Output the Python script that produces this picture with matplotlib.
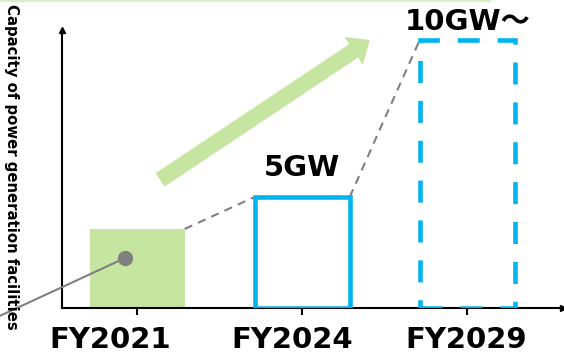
import matplotlib
matplotlib.use("Agg")
import matplotlib.pyplot as plt
from matplotlib.patches import FancyArrowPatch
from matplotlib.lines import Line2D

plt.rcParams['font.family'] = ['DejaVu Sans', 'Noto Sans CJK JP']

years = ["FY2021", "FY2024", "FY2029"]
heights = [3.56, 5.0, 12.07]          # schematic capacity (GW scale)
labels = [None, "5GW", "10GW～"]
ylabel = "Capacity of power generation facilities"

green = "#c5e5a0"
blue = "#00b4f0"
gray = "#808080"

fig = plt.figure(figsize=(5.64, 3.63), dpi=100)
ax = fig.add_axes([62/564, 55/363, 501/564, 278/363])
x = list(range(len(years)))
w = 0.576

# bars
ax.bar(x[0], heights[0], width=w, color=green, edgecolor="none", zorder=2)
ax.bar(x[1], heights[1], width=w, facecolor="none", edgecolor=blue, lw=3.3, zorder=3)
ax.bar(x[2], heights[2], width=w, facecolor="none", edgecolor=blue, lw=3.3,
       linestyle=(0, (4.8, 3.9)), zorder=3)

# dashed connectors between bar tops
for i in range(len(years) - 1):
    ax.plot([x[i] + w/2, x[i+1] - w/2], [heights[i], heights[i+1]],
            color=gray, lw=1.5, linestyle=(0, (4, 3)), zorder=1)

# value labels
ax.text(x[1], 6.3, labels[1], ha="center", va="center", fontsize=21, fontweight="bold")
ax.text(x[2], 12.9, labels[2], ha="center", va="center", fontsize=21, fontweight="bold")

# growth arrow
arr = FancyArrowPatch((0.139, 5.77), (1.41, 12.07), arrowstyle="simple,head_width=24,head_length=14,tail_width=11.5",
                      mutation_scale=1, color=green, shrinkA=0, shrinkB=0, lw=0, zorder=2)
ax.add_patch(arr)

# pointer dot and leader line
ax.plot([-0.83, -0.073], [-0.35, 2.25], color=gray, lw=1.5, clip_on=False, zorder=4)
ax.plot(-0.073, 2.25, "o", color=gray, ms=10, clip_on=False, zorder=5)

ax.set_xlim(-0.455, 2.58)
ax.set_ylim(0, 12.52)
# tick marks at the bars, labels (minor ticks) sit a little left as in the original
ax.set_xticks(x)
ax.set_xticklabels([])
ax.set_xticks([-0.164, 0.939, 1.994], minor=True)
ax.set_xticklabels(years, minor=True, fontsize=21, fontweight="bold")
ax.tick_params(axis="x", which="major", length=5, width=1.5)
ax.tick_params(axis="x", which="minor", length=0, pad=13)
ax.set_yticks([])
for s in ["top", "right"]:
    ax.spines[s].set_visible(False)
for s in ["left", "bottom"]:
    ax.spines[s].set_linewidth(1.5)
ax.plot(1, 0, ">k", ms=5, transform=ax.transAxes, clip_on=False)
ax.plot(0, 1, "^k", ms=5, transform=ax.transAxes, clip_on=False)

fig.text(0.021, 0.54, ylabel, rotation=-90, ha="center", va="center", fontsize=10.7, fontweight="bold")
fig.add_artist(Line2D([0, 490/564], [0.998, 0.998], color="#d9eec4", lw=1.5, transform=fig.transFigure))

fig.savefig("out.png", dpi=100)
